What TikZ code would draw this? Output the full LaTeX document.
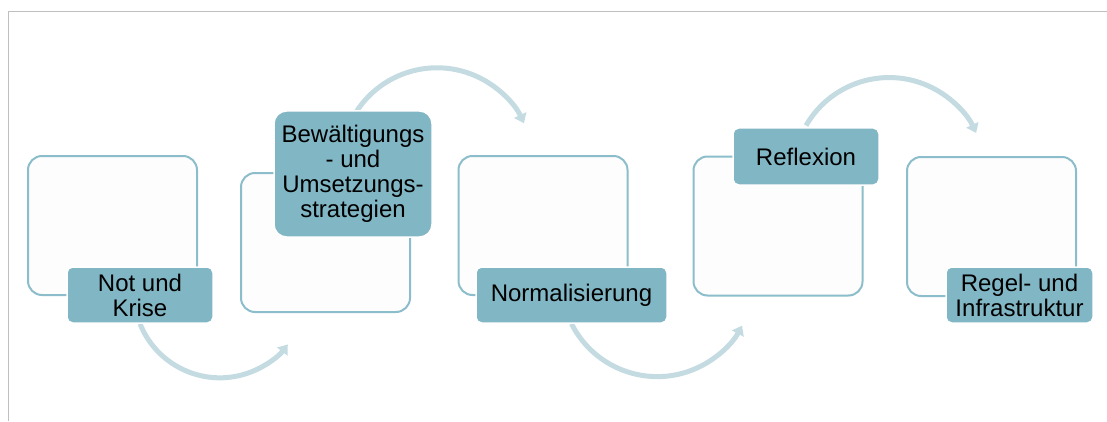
\documentclass[tikz,border=0pt]{standalone}
\usepackage{fontspec}
\setmainfont{Liberation Sans}
\usetikzlibrary{arrows.meta,backgrounds}
\definecolor{labelfill}{HTML}{81B6C4}
\definecolor{boxline}{HTML}{8CBDCA}
\definecolor{boxfill}{HTML}{FDFDFD}
\definecolor{arrowc}{HTML}{C3DBE1}
\definecolor{framec}{HTML}{BFBFBF}
\begin{document}
\begin{tikzpicture}[x=1pt,y=1pt,
  stage/.style={draw=boxline, line width=2pt, fill=boxfill, rounded corners=14pt,
    minimum width=169pt, minimum height=139pt, inner sep=0pt},
  tag/.style={draw=white, line width=1.5pt, fill=labelfill, rounded corners=5.6pt,
    inner sep=0pt, align=center, text=black, font=\fontsize{24}{25}\selectfont},
  flow/.style={draw=arrowc, line width=5pt, -{Triangle[width=13pt,length=9pt]}}]
\useasboundingbox (0,0) rectangle (1107,421);
% frame
\draw[framec, line width=1.3pt] (8.3,0) -- (8.3,409.3) -- (1108,409.3);
% outlined stage boxes
\node[stage] (b1) at (112.5,195.5) {};
\node[stage] (b2) at (325.5,178.5) {};
\node[stage] (b3) at (543,195.5) {};
\node[stage] (b4) at (778,195) {};
\node[stage] (b5) at (991.5,194.5) {};
% labels
\node[tag, minimum width=146pt, minimum height=56pt] (l1) at (140,126) {Not und\\Krise};
\node[tag, minimum width=158pt, minimum height=126pt, rounded corners=12.6pt] (l2) at (353,247)
  {Bewältigungs\\- und\\Umsetzungs-\\strategien};
\node[tag, minimum width=191pt, minimum height=56pt] (l3) at (571.5,126) {Normalisierung};
\node[tag, minimum width=146pt, minimum height=57pt] (l4) at (806,264.5) {Reflexion};
\node[tag, minimum width=147pt, minimum height=56pt] (l5) at (1019.5,126) {Regel- und\\Infrastruktur};
% curved arrows between the stages
\begin{scope}[on background layer]
\draw[flow] (l1.south) arc[start angle=-158.2, end angle=-37.8, radius=86];
\draw[flow] ([yshift=-7pt]l2.north) arc[start angle=151, end angle=25, radius=96];
\draw[flow] (l3.south) arc[start angle=-153.3, end angle=-28, radius=96];
\draw[flow] ([yshift=1.7pt]l4.north) arc[start angle=150, end angle=25, radius=96];
\end{scope}
\end{tikzpicture}
\end{document}
